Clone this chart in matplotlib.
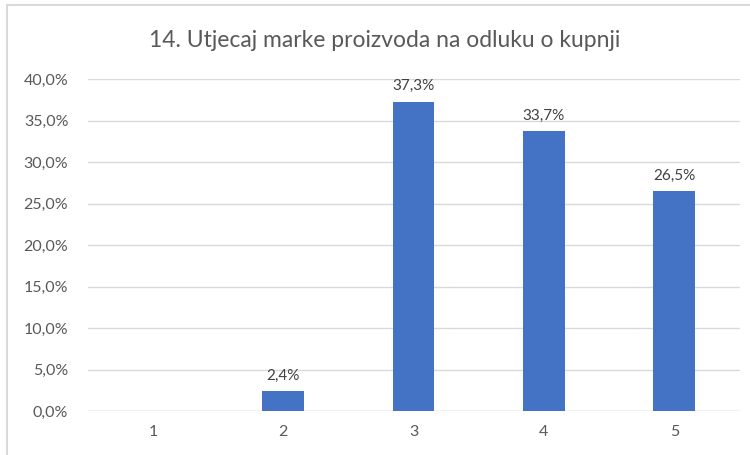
import matplotlib.pyplot as plt
from matplotlib.lines import Line2D

# Chart data
categories = ['1', '2', '3', '4', '5']
values = [0.0, 2.4, 37.3, 33.7, 26.5]
labels = ['', '2,4%', '37,3%', '33,7%', '26,5%']
yticks = [0, 5, 10, 15, 20, 25, 30, 35, 40]

plt.rcParams['font.family'] = ['Lato', 'DejaVu Sans']

fig = plt.figure(figsize=(7.5, 4.55), dpi=100)
ax = fig.add_axes([0.117, 0.0967, 0.869, 0.7293])

x = range(len(categories))
bars = ax.bar(x, values, width=0.32, color='#4472C4', zorder=3)
for b, lab in zip(bars, labels):
    if lab:
        ax.annotate(lab, (b.get_x() + b.get_width() / 2, b.get_height()),
                    xytext=(0, 6), textcoords='offset points',
                    ha='center', va='bottom', fontsize=11, color='#404040')

ax.set_xlim(-0.5, len(categories) - 0.5)
ax.set_ylim(0, 40)
ax.set_yticks(yticks)
ax.set_yticklabels([f'{t:.1f}%'.replace('.', ',') for t in yticks])
ax.set_xticks(list(x))
ax.set_xticklabels(categories)
ax.tick_params(axis='both', length=0, labelsize=11.5, colors='#595959')
ax.tick_params(axis='y', pad=14)
ax.tick_params(axis='x', pad=10)
ax.yaxis.grid(True, color='#D9D9D9', linewidth=1, zorder=0)
for s in ax.spines.values():
    s.set_visible(False)
ax.axhline(0, color='#D9D9D9', linewidth=1, zorder=2)

fig.text(0.513, 0.912, '14. Utjecaj marke proizvoda na odluku o kupnji',
         ha='center', va='center', fontsize=16.5, color='#595959')

# chart border (top and left visible)
fig.add_artist(Line2D([0.009, 1.0], [0.989, 0.989], color='#D9D9D9', linewidth=1.5))
fig.add_artist(Line2D([0.009, 0.009], [0.0, 0.989], color='#D9D9D9', linewidth=1.5))

fig.savefig('out.png', dpi=100)
